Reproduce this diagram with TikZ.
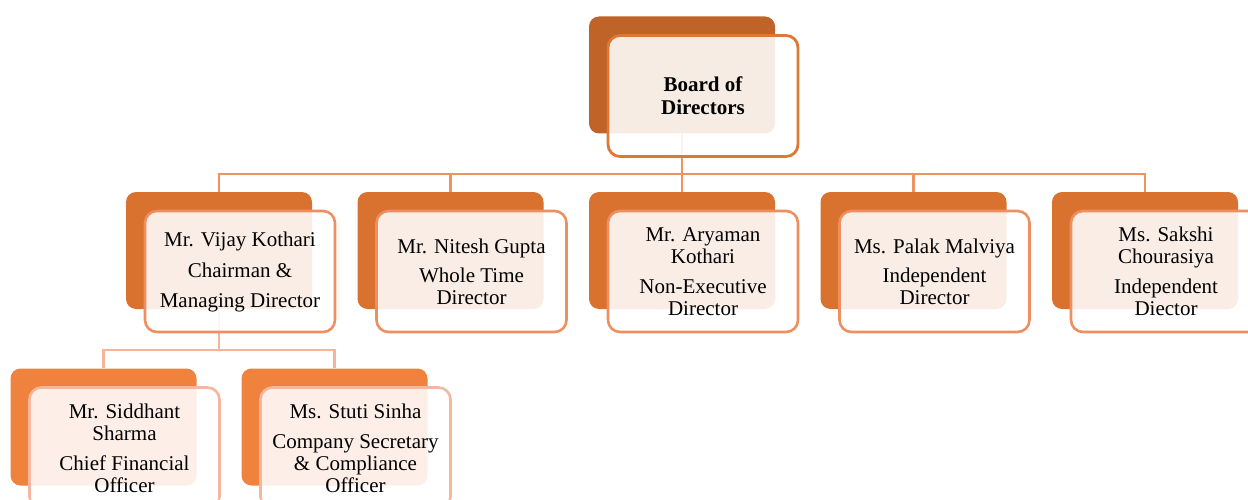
\documentclass[tikz,border=0pt]{standalone}
\usepackage{fontspec}
\setmainfont{Liberation Serif}
\definecolor{backA}{HTML}{BF6329}
\definecolor{backB}{HTML}{D9722F}
\definecolor{backC}{HTML}{EF823D}
\definecolor{lineA}{HTML}{DE7837}
\definecolor{lineB}{HTML}{ED8F60}
\definecolor{lineC}{HTML}{F4B69E}
\definecolor{connA}{HTML}{EE9464}
\definecolor{connB}{HTML}{F5B59C}
\begin{document}
\begin{tikzpicture}[x=1pt,y=-1pt,
  backbox/.style={draw=none,rounded corners=10pt,minimum width=186pt,minimum height=117pt,inner sep=0pt},
  frontbox/.style={rounded corners=12pt,minimum width=190pt,minimum height=121pt,inner sep=0pt,
    fill=white,fill opacity=0.88,text opacity=1,line width=2.6pt,align=center,
    font=\fontsize{21}{22}\selectfont},
  connone/.style={draw=connA,line width=2.6pt},
  conntwo/.style={draw=connB,line width=2.6pt}]
\useasboundingbox (0,0) rectangle (1248,500);
\clip (0,0) rectangle (1248,500);
% back boxes
\node[backbox,fill=backA] (bdb) at (682,75) {};
\node[backbox,fill=backB] (vjb) at (219,250.5) {};
\node[backbox,fill=backB] (ngb) at (450.5,250.5) {};
\node[backbox,fill=backB] (akb) at (682,250.5) {};
\node[backbox,fill=backB] (pmb) at (913.5,250.5) {};
\node[backbox,fill=backB] (scb) at (1145,250.5) {};
\node[backbox,fill=backC] (ssb) at (103.5,427) {};
\node[backbox,fill=backC] (stb) at (334.5,427) {};
% connectors
\coordinate (jone) at (682,174);
\coordinate (jtwo) at (219,350);
\draw[connone] (bdb.south) -- (jone) -| (vjb.north);
\draw[connone] (jone) -| (ngb.north);
\draw[connone] (jone) -- (akb.north);
\draw[connone] (jone) -| (pmb.north);
\draw[connone] (jone) -| (scb.north);
\draw[conntwo] (vjb.south) -- (jtwo) -| (ssb.north);
\draw[conntwo] (jtwo) -| (stb.north);
% front boxes
\node[frontbox,draw=lineA,line width=2.8pt,font=\fontsize{21}{23}\selectfont\bfseries] (bdf) at (703,96) {Board of\\Directors};
\node[frontbox,draw=lineB] (vjf) at (240,271.5) {Mr. Vijay Kothari\\[9pt]Chairman \&\\[8pt]Managing Director};
\node[frontbox,draw=lineB] (ngf) at (471.5,271.5) {Mr. Nitesh Gupta\\[7pt]Whole Time\\Director};
\node[frontbox,draw=lineB] (akf) at (703,271.5) {Mr. Aryaman\\Kothari\\[8pt]Non-Executive\\Director};
\node[frontbox,draw=lineB] (pmf) at (934.5,271.5) {Ms. Palak Malviya\\[7pt]Independent\\Director};
\node[frontbox,draw=lineB] (scf) at (1166,271.5) {Ms. Sakshi\\Chourasiya\\[8pt]Independent\\Diector};
\node[frontbox,draw=lineC] (ssf) at (124.5,448) {Mr. Siddhant\\Sharma\\[8pt]Chief Financial\\Officer};
\node[frontbox,draw=lineC] (stf) at (355.5,448) {Ms. Stuti Sinha\\[8pt]Company Secretary\\\& Compliance\\Officer};
\end{tikzpicture}
\end{document}
